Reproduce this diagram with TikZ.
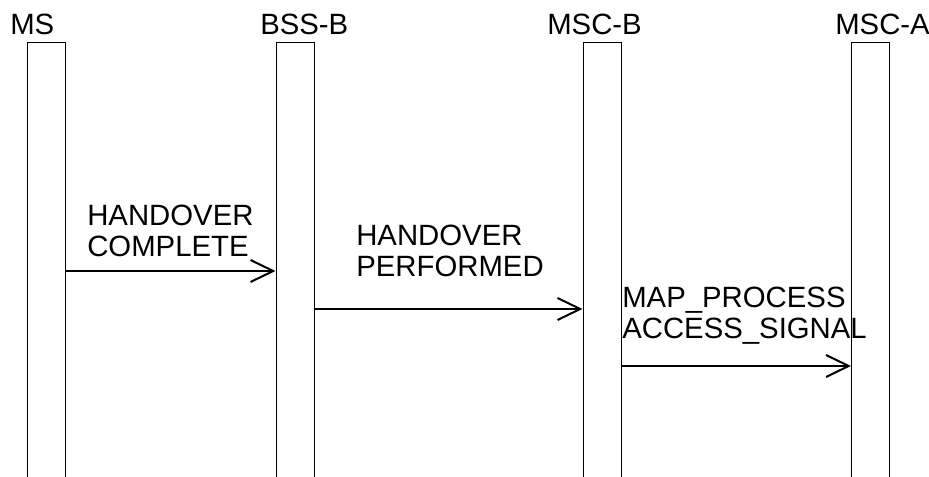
\documentclass[tikz,border=0pt]{standalone}
\usepackage{fontspec}
\setmainfont{Liberation Sans}
\usetikzlibrary{arrows.meta}

\begin{document}
\begin{tikzpicture}[x=0.75pt, y=-0.75pt,
  lane/.style={draw, line width=0.75pt, minimum width=28.5pt, minimum height=330pt, anchor=north, inner sep=0pt},
  msg/.style={line width=1.5pt, -{Straight Barb[length=17pt, width=16.5pt, line width=1.5pt]}},
  lbl/.style={font=\fontsize{22}{23}\selectfont, inner sep=0pt, align=left, anchor=north west},
  head/.style={font=\fontsize{22}{23}\selectfont, inner sep=0pt, anchor=base west}]
\useasboundingbox (0,0) rectangle (929,477);
\foreach \n/\x in {ms/46, bssb/295, mscb/602, msca/870.5} {
  \node[lane] (\n) at (\x,42) {};
}
\node[head] (tms) at (10,35) {MS};
\node[head] (tbssb) at (260,35) {BSS-B};
\node[head] (tmscb) at (547,35) {MSC-B};
\node[head] (tmsca) at (835,35) {MSC-A};
\node[lbl] (hc) at (87,205) {HANDOVER\\COMPLETE};
\node[lbl] (hp) at (356,225) {HANDOVER\\PERFORMED};
\node[lbl] (mp) at (622,287) {MAP\_PROCESS\\ACCESS\_SIGNAL};
\draw[msg] (ms.east |- 0,271) -- (bssb.west |- 0,271);
\draw[msg] (bssb.east |- 0,309) -- (mscb.west |- 0,309);
\draw[msg] (mscb.east |- 0,366) -- (msca.west |- 0,366);
\end{tikzpicture}
\end{document}
